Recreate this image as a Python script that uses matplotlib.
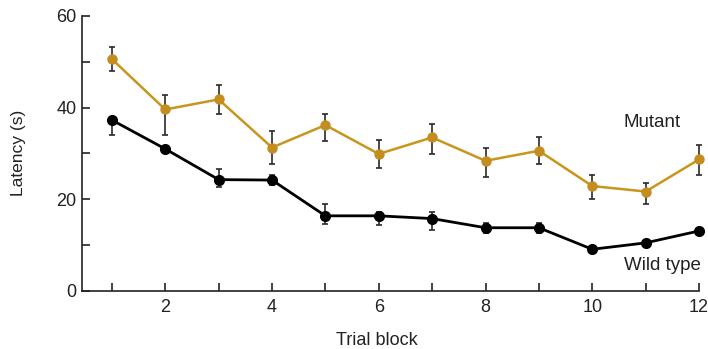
import numpy as np
import matplotlib.pyplot as plt
from matplotlib.ticker import MultipleLocator

plt.rcParams['font.family'] = ['Liberation Sans', 'DejaVu Sans']

# 数据：从图上读取
trial_block = np.arange(1, 13)

mutant_mean = [50.6, 39.6, 41.8, 31.3, 36.2, 29.9, 33.5, 28.4, 30.6, 22.9, 21.7, 28.7]
mutant_upper = [53.2, 42.8, 45.0, 34.8, 38.6, 32.9, 36.4, 31.3, 33.5, 25.3, 23.6, 31.8]
mutant_lower = [48.1, 34.0, 38.6, 27.8, 32.8, 26.8, 29.9, 24.9, 27.6, 20.1, 19.0, 25.3]

wild_mean = [37.3, 31.0, 24.3, 24.2, 16.4, 16.4, 15.8, 13.8, 13.8, 9.1, 10.5, 13.1]
wild_upper = [38.0, 31.5, 26.6, 25.3, 19.0, 17.2, 17.3, 14.9, 14.9, 9.5, 10.9, 13.5]
wild_lower = [34.0, 30.5, 22.7, 23.1, 14.6, 14.5, 13.2, 12.7, 12.7, 8.7, 10.1, 12.7]

gold = '#c9951c'


def err(mean, upper, lower):
    mean = np.array(mean)
    return [mean - np.array(lower), np.array(upper) - mean]


fig = plt.figure(figsize=(7.08, 3.49), dpi=100)
ax = fig.add_axes([0.1158, 0.1662, 0.8715, 0.788])

ax.errorbar(trial_block, mutant_mean, yerr=err(mutant_mean, mutant_upper, mutant_lower),
            color=gold, ecolor='#2a2a2a', elinewidth=1.2, capsize=2.2, capthick=1.2,
            linewidth=1.8, marker='o', markersize=6.5, markerfacecolor='#c48d1f',
            markeredgecolor='#c48d1f', clip_on=False, zorder=3)
ax.errorbar(trial_block, wild_mean, yerr=err(wild_mean, wild_upper, wild_lower),
            color='black', ecolor='#2a2a2a', elinewidth=1.2, capsize=2.2, capthick=1.2,
            linewidth=2.0, marker='o', markersize=7, clip_on=False, zorder=3)

ax.text(11.12, 36.7, 'Mutant', ha='center', va='center', fontsize=13.5, color='#222222')
ax.text(11.31, 5.5, 'Wild type', ha='center', va='center', fontsize=13.5, color='#222222')

ax.set_xlim(0.44, 12)
ax.set_ylim(0, 60)
ax.xaxis.set_major_locator(MultipleLocator(2))
ax.xaxis.set_minor_locator(MultipleLocator(1))
ax.yaxis.set_major_locator(MultipleLocator(20))
ax.yaxis.set_minor_locator(MultipleLocator(10))

ax.spines['top'].set_visible(False)
ax.spines['right'].set_visible(False)
for s in ['left', 'bottom']:
    ax.spines[s].set_linewidth(1.2)
    ax.spines[s].set_color('#222222')

ax.tick_params(which='both', direction='in', length=6, width=1.2, color='#222222')
ax.tick_params(axis='x', which='major', pad=6, labelsize=13, labelcolor='#222222')
ax.tick_params(axis='y', which='major', pad=4, labelsize=13, labelcolor='#222222')

ax.set_xlabel('Trial block', fontsize=13, color='#222222')
ax.set_ylabel('Latency (s)', fontsize=12.5, color='#222222')
ax.xaxis.set_label_coords(0.478, -0.148)
ax.yaxis.set_label_coords(-0.091, 0.502)

fig.savefig('out.png', dpi=100)
